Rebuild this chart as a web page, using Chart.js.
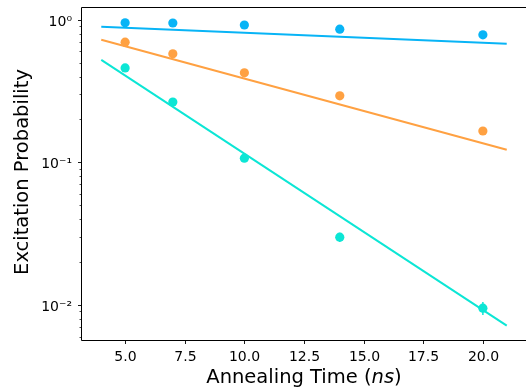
<!DOCTYPE html>
<html>
<head>
<meta charset="utf-8">
<script src="https://cdn.jsdelivr.net/npm/chart.js@4/dist/chart.umd.min.js"></script>
<style>
  html, body { margin: 0; padding: 0; background: #fff; overflow: hidden; }
  #wrap { width: 528px; height: 389px; }
</style>
</head>
<body>
<div id="wrap"><canvas id="chart" width="528" height="389"></canvas></div>
<script>
// measured points
const times = [5, 7, 10, 14, 20];
const probBlue = [0.953, 0.95, 0.92, 0.86, 0.785];
const probOrange = [0.697, 0.577, 0.425, 0.293, 0.166];
const probCyan = [0.46, 0.265, 0.107, 0.0299, 0.0095];
const errCyan = [0.004, 0.003, 0.002, 0.0022, 0.001];

// fitted lines
const fitTimes = [4, 21];
const fitBlue = [0.893, 0.68];
const fitOrange = [0.724, 0.1225];
const fitCyan = [0.524, 0.00716];

// axis ticks
const xTicks = [5, 7.5, 10, 12.5, 15, 17.5, 20];
const yMajor = [0.01, 0.1, 1];
const yMajorLabels = ['10\u207B\u00B2', '10\u207B\u00B9', '10\u2070'];
const yMinor = [0.006, 0.007, 0.008, 0.009,
  0.02, 0.03, 0.04, 0.05, 0.06, 0.07, 0.08, 0.09,
  0.2, 0.3, 0.4, 0.5, 0.6, 0.7, 0.8, 0.9];

const BLUE = '#08b4f6';
const ORANGE = '#ffa142';
const CYAN = '#0ce6d5';
const FONT = '"DejaVu Sans", sans-serif';

const pts = (xs, ys) => xs.map((x, i) => ({ x: x, y: ys[i] }));

function lineSet(xs, ys, color) {
  return { type: 'line', data: pts(xs, ys), borderColor: color, borderWidth: 2,
    pointRadius: 0, fill: false, tension: 0, order: 2 };
}
function dotSet(xs, ys, color, err) {
  return { type: 'scatter', data: pts(xs, ys), backgroundColor: color, borderWidth: 0,
    pointRadius: 4.6, order: 1, err: err };
}

const axesDeco = {
  id: 'axesDeco',
  afterDatasetsDraw(chart) {
    const { ctx, scales: { x, y } } = chart;
    ctx.save();
    chart.data.datasets.forEach(ds => {
      if (!ds.err) return;
      ctx.strokeStyle = ds.backgroundColor;
      ctx.lineWidth = 1.5;
      ds.data.forEach((p, i) => {
        const px = x.getPixelForValue(p.x);
        ctx.beginPath();
        ctx.moveTo(px, y.getPixelForValue(p.y - ds.err[i]));
        ctx.lineTo(px, y.getPixelForValue(p.y + ds.err[i]));
        ctx.stroke();
      });
    });
    ctx.restore();
  },
  afterDraw(chart) {
    const { ctx, chartArea: a, scales: { x, y } } = chart;
    const L = a.left + 0.5, B = a.bottom + 0.5, T = a.top + 0.5, R = a.right + 0.5;
    ctx.save();
    ctx.strokeStyle = '#000';
    ctx.lineWidth = 1;
    ctx.beginPath();
    ctx.moveTo(R, T); ctx.lineTo(L, T); ctx.lineTo(L, B); ctx.lineTo(R, B);
    ctx.stroke();

    // x ticks
    ctx.fillStyle = '#000';
    ctx.font = '14px ' + FONT;
    ctx.textAlign = 'center';
    ctx.textBaseline = 'alphabetic';
    ctx.lineWidth = 0.9;
    xTicks.forEach(v => {
      const px = Math.round(x.getPixelForValue(v)) + 0.5;
      ctx.beginPath(); ctx.moveTo(px, B); ctx.lineTo(px, B + 3.5); ctx.stroke();
      ctx.fillText(v.toFixed(1), px, a.bottom + 21);
    });

    // y ticks
    ctx.textAlign = 'right';
    yMajor.forEach((v, i) => {
      const py = Math.round(y.getPixelForValue(v)) + 0.5;
      ctx.beginPath(); ctx.moveTo(L, py); ctx.lineTo(L - 3.5, py); ctx.stroke();
      ctx.fillText(yMajorLabels[i], a.left - 9, py + 5.5);
    });
    ctx.lineWidth = 0.7;
    yMinor.forEach(v => {
      const py = Math.round(y.getPixelForValue(v)) + 0.5;
      ctx.beginPath(); ctx.moveTo(L, py); ctx.lineTo(L - 2, py); ctx.stroke();
    });

    // axis titles
    ctx.font = '19.5px ' + FONT;
    const t1 = 'Annealing Time (', t2 = 'ns', t3 = ')';
    const w1 = ctx.measureText(t1).width, w3 = ctx.measureText(t3).width;
    ctx.font = 'italic 19.5px ' + FONT;
    const w2 = ctx.measureText(t2).width;
    let sx = (a.left + a.right) / 2 - (w1 + w2 + w3) / 2;
    ctx.textAlign = 'left';
    ctx.font = '19.5px ' + FONT;
    ctx.fillText(t1, sx, 383);
    ctx.font = 'italic 19.5px ' + FONT;
    ctx.fillText(t2, sx + w1, 383);
    ctx.font = '19.5px ' + FONT;
    ctx.fillText(t3, sx + w1 + w2, 383);

    ctx.translate(27.5, 172);
    ctx.rotate(-Math.PI / 2);
    ctx.textAlign = 'center';
    ctx.fillText('Excitation Probability', 0, 0);
    ctx.restore();
  }
};

new Chart(document.getElementById('chart'), {
  data: {
    datasets: [
      lineSet(fitTimes, fitBlue, BLUE),
      lineSet(fitTimes, fitOrange, ORANGE),
      lineSet(fitTimes, fitCyan, CYAN),
      dotSet(times, probBlue, BLUE),
      dotSet(times, probOrange, ORANGE),
      dotSet(times, probCyan, CYAN, errCyan)
    ]
  },
  options: {
    responsive: false,
    animation: false,
    devicePixelRatio: 1,
    layout: { autoPadding: false, padding: { left: 0, top: 7, right: 1, bottom: 0 } },
    plugins: { legend: { display: false }, tooltip: { enabled: false } },
    scales: {
      x: {
        type: 'linear', min: 3.15, max: 21.85,
        ticks: { display: false }, grid: { display: false }, border: { display: false },
        afterFit: s => { s.height = 49; }
      },
      y: {
        type: 'logarithmic', min: 0.00568, max: 1.23,
        ticks: { display: false }, grid: { display: false }, border: { display: false },
        afterFit: s => { s.width = 81; }
      }
    }
  },
  plugins: [axesDeco]
});
</script>
</body>
</html>
